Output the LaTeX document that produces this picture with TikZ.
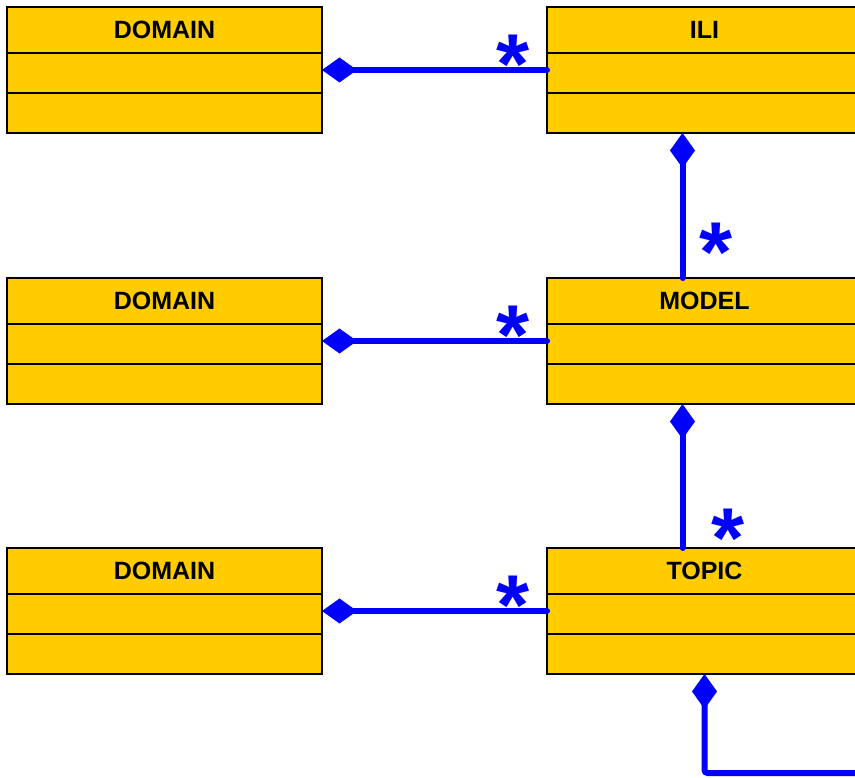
\documentclass[tikz,border=0pt]{standalone}
\usepackage{fontspec}
\setmainfont{Liberation Sans}
\usepackage{xcolor}
\usetikzlibrary{arrows.meta, positioning}
\definecolor{umlyellow}{HTML}{FFCC00}
\definecolor{assocblue}{HTML}{0000FF}

\newcommand{\many}{\raisebox{-0.42em}[0.3em][0pt]{*}}

\tikzset{
  head/.style={draw=black, line width=1.6pt, fill=umlyellow, outer sep=0pt, inner sep=0pt,
    minimum width=315pt, minimum height=46pt, font=\fontsize{25}{25}\selectfont\bfseries},
  comp/.style={draw=black, line width=1.6pt, fill=umlyellow, outer sep=0pt, inner sep=0pt,
    minimum width=315pt, minimum height=40pt},
  assoc/.style={draw=assocblue, line width=6pt, line cap=round,
    {Diamond[length=35pt, width=25pt, line width=0pt]}-},
  mult/.style={text=assocblue, font=\fontsize{85}{85}\selectfont\bfseries, inner sep=0pt}
}

\begin{document}
\begin{tikzpicture}[x=1pt, y=-1pt]
  \useasboundingbox (0,0) rectangle (855,778);
  \clip (0,0) rectangle (855,778);
  \fill[white] (0,0) rectangle (855,778);

  % class boxes, one row each
  \foreach \r/\y/\cls in {1/7/ILI, 2/278/MODEL, 3/548/TOPIC} {
    \node[head, anchor=north west] (dom\r) at (7,\y) {DOMAIN};
    \node[comp, below=0pt of dom\r] (dom\r-a) {};
    \node[comp, below=0pt of dom\r-a] (dom\r-o) {};
    \node[head, anchor=north west] (cls\r) at (547,\y) {\cls};
    \node[comp, below=0pt of cls\r] (cls\r-a) {};
    \node[comp, below=0pt of cls\r-a] (cls\r-o) {};
    % domain of the class
    \draw[assoc] ([yshift=3pt]dom\r-a.east) -- ([yshift=3pt]cls\r-a.west)
      node[mult, pos=0.85, yshift=25pt] {\many};
  }

  % containment down the hierarchy
  \draw[assoc] ([xshift=-22pt]cls1-o.south) -- ([xshift=-22pt]cls2.north)
    node[mult, pos=0.74, xshift=34pt, yshift=7pt] {\many};
  \draw[assoc] ([xshift=-22pt]cls2-o.south) -- ([xshift=-22pt]cls3.north)
    node[mult, pos=0.85, xshift=46pt, yshift=7pt] {\many};

  \coordinate (next) at (880,773);
  \draw[assoc, rounded corners=3pt] (cls3-o.south) |- (next);
\end{tikzpicture}
\end{document}
